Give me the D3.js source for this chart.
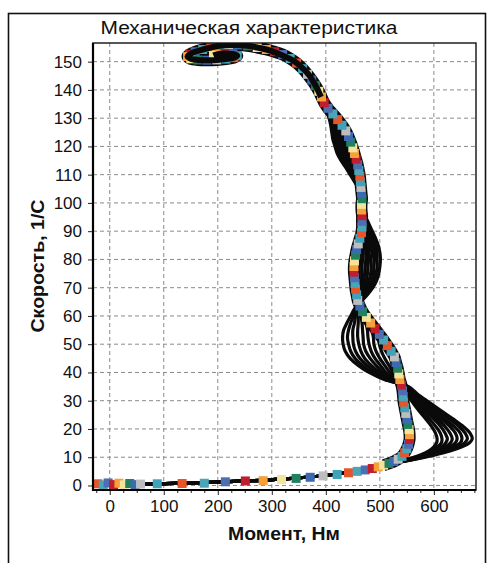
<!DOCTYPE html>
<html>
<head>
<meta charset="utf-8">
<script src="https://cdn.jsdelivr.net/npm/d3@7"></script>
<style>
  body { margin: 0; background: #fff; }
  text { font-family: "Liberation Sans", Arial, sans-serif; fill: #111; }
</style>
</head>
<body>
<div id="chart"></div>
<script>
// tick values
const xTicks = [0, 100, 200, 300, 400, 500, 600]
const xMinorTicks = [-25, 25, 50, 75, 125, 150, 175, 225, 250, 275, 325, 350, 375, 425, 450, 475, 525, 550, 575, 625, 650, 675]
const yTicks = [0, 10, 20, 30, 40, 50, 60, 70, 80, 90, 100, 110, 120, 130, 140, 150]

// main curve with coloured square markers [torque, speed]
const mainCurve = [
  [-22, 0.6], [-12, 0.2], [-3, 0.9], [7, 0.3], [17, 0.8], [27, 0.2], [37, 0.7], [47, 0.3], [57, 0.5],
  [88, 0.6], [134, 0.7], [175, 0.8], [214, 1.3], [251, 1.6], [284, 1.7], [318, 2.1], [345, 2.5],
  [371, 2.9], [395, 3.4], [421, 3.9], [442, 4.5], [458, 5.0], [473, 5.5], [486, 6.0], [497, 6.6],
  [507, 7.2], [517, 7.8], [526, 8.5], [534, 9.3], [541, 10.3], [546, 11.6], [550, 13], [553, 14.6],
  [555, 16.3], [555, 18], [554, 19.8], [552, 21.6], [550, 23.5], [548, 25.5], [546, 27.5], [544, 29.5],
  [543, 31.5], [542, 33.5], [540, 35.5], [537, 37.5], [535, 39.5], [533, 41.5], [530, 43.5], [527, 45.5],
  [521, 47.5], [514, 49.5], [507, 51.5], [499, 53.5], [491, 55.5], [483, 57.5], [475, 59.5], [468, 61.5],
  [463, 63.5], [459, 65.5], [457, 67.5], [455, 69.5], [454, 71.5], [453, 73.5], [452, 75.5], [452, 77.5],
  [453, 79.5], [455, 81.5], [457, 83.5], [460, 85.5], [463, 87.5], [466, 89.5], [467, 91.5], [467, 93.5],
  [467, 95.5], [466, 97.5], [466, 99.5], [467, 101.5], [466, 103.5], [465, 105.5], [464, 107.5],
  [463, 109.5], [461, 111.5], [459, 113.5], [456, 115.5], [453, 117.5], [450, 119.5], [446, 121.5],
  [442, 123.5], [437, 125.5], [430, 127.5], [422, 129.5], [413, 131.5], [404, 133.5], [397, 135.5],
  [392, 137.5], [387, 139.5], [381, 141.5], [374, 143.5], [366, 145.5], [357, 147.5], [346, 149.5],
  [334, 151.1], [320, 152.5], [305, 153.5], [290, 154.3], [273, 155], [255, 155.6], [237, 155.9],
  [220, 155.9], [203, 155.6], [187, 155], [172, 154.3], [158, 153.5], [148, 152.6], [144, 151.8],
  [150, 151], [163, 150.6], [180, 150.5], [198, 150.6], [215, 150.9], [230, 151.4], [236, 152.1],
  [228, 152.7], [212, 152.9], [198, 152.6], [192, 152.2]
]

const markerColors = ["#e8542a", "#4ba5b9", "#4d6fb1", "#bf1e2e", "#f7a03a", "#f2e49a", "#21805f", "#3c6ab1", "#bdbdbd", "#3fa2b8"]

// black curves: shared start and end
const blackBottom = [
  [-25, 0.3], [-5, 0.5], [15, 0.3], [35, 0.6], [60, 0.5], [90, 0.6], [130, 0.8], [170, 1.0], [210, 1.3],
  [250, 1.6], [290, 1.9], [330, 2.4], [370, 3.0], [410, 3.8], [445, 4.7], [475, 5.7], [500, 6.8], [520, 7.7]
]
const blackTop = [
  [391, 137.5], [385, 140], [378, 142.5], [370, 145], [358, 147.5], [343, 150], [322, 152], [306, 153.3],
  [290, 154.3], [273, 155], [255, 155.6], [237, 155.9], [220, 155.9], [203, 155.6], [187, 155],
  [172, 154.3], [158, 153.5], [148, 152.6], [144, 151.8], [150, 151], [163, 150.6], [180, 150.5],
  [198, 150.6], [215, 150.9], [230, 151.4], [236, 152.1], [228, 152.7], [212, 152.9], [198, 152.6], [192, 152.2]
]

// speeds of the middle section points of the black curves
const blackSpeeds = [8.6, 9.6, 10.8, 12.2, 13.7, 15.1, 16.5, 18.5, 20.8, 23.5, 26.5, 29.6, 32.5, 35,
  37.5, 40, 42.5, 45, 47.5, 50, 52.5, 55, 57.5, 60, 62.5,
  65, 67.5, 70, 72.5, 75, 77.5, 80, 82.5, 85, 87.5, 90, 92.5, 95, 97.5, 100,
  102.5, 105, 107.5, 110, 112.5, 115, 117.5, 120, 122.5, 125, 127.5, 130, 132.5, 135]

// torque of each black curve at those speeds (inner to outer)
const blackTorques = [
  [538, 557, 575, 590, 600, 605, 606, 603, 596, 585, 572, 560, 550, 543,
   530, 524, 517, 509, 503, 499, 497, 494, 488, 479, 469,
   461, 461, 461, 461, 462, 462, 463, 464, 465, 466, 467, 468, 468, 467, 466,
   466, 464, 461, 457, 453, 449, 445, 441, 436, 430, 422, 412, 403, 397],
  [539, 559, 579, 596, 607, 614, 615, 612, 604, 592, 578, 564, 553, 544,
   527, 518, 509, 500, 493, 489, 488, 485, 481, 474, 467,
   462, 463, 465, 466, 467, 467, 468, 469, 470, 470, 470, 470, 469, 467, 466,
   466, 464, 460, 455, 451, 446, 442, 438, 433, 427, 420, 411, 403, 397],
  [540, 562, 583, 601, 615, 622, 625, 621, 613, 600, 584, 569, 555, 546,
   524, 511, 501, 491, 484, 480, 478, 477, 474, 470, 464,
   462, 466, 468, 470, 472, 473, 474, 474, 474, 473, 472, 471, 470, 468, 466,
   466, 463, 459, 454, 448, 443, 438, 434, 429, 425, 418, 410, 403, 397],
  [541, 564, 587, 607, 622, 631, 634, 630, 621, 607, 590, 573, 558, 547,
   521, 505, 493, 482, 474, 470, 469, 468, 467, 465, 462,
   463, 468, 472, 475, 477, 478, 479, 479, 479, 477, 475, 473, 471, 468, 466,
   466, 463, 458, 452, 446, 440, 435, 431, 426, 422, 416, 409, 403, 397],
  [543, 566, 590, 613, 630, 640, 643, 640, 630, 614, 595, 577, 561, 549,
   517, 499, 484, 472, 465, 461, 459, 459, 460, 460, 460,
   463, 470, 476, 480, 483, 484, 484, 485, 483, 481, 478, 475, 471, 468, 466,
   466, 462, 456, 450, 444, 437, 431, 427, 423, 419, 415, 409, 402, 397],
  [544, 568, 594, 619, 637, 649, 652, 649, 638, 621, 601, 581, 564, 550,
   514, 493, 476, 463, 455, 451, 450, 450, 453, 455, 458,
   464, 472, 480, 485, 488, 489, 490, 490, 488, 485, 481, 477, 472, 468, 466,
   466, 462, 455, 448, 442, 434, 428, 424, 420, 416, 413, 408, 402, 397],
  [545, 571, 598, 624, 645, 657, 662, 658, 647, 629, 607, 586, 566, 552,
   511, 486, 468, 454, 446, 442, 440, 442, 446, 451, 455,
   464, 475, 483, 489, 493, 495, 495, 495, 492, 488, 483, 478, 473, 469, 466,
   466, 461, 454, 447, 439, 431, 424, 420, 416, 414, 411, 407, 402, 397],
  [546, 573, 602, 630, 652, 666, 671, 667, 655, 636, 613, 590, 569, 553,
   508, 480, 460, 445, 436, 432, 431, 433, 439, 446, 453,
   465, 477, 487, 494, 498, 500, 501, 500, 497, 492, 486, 480, 474, 469, 466,
   466, 461, 453, 445, 437, 428, 421, 417, 413, 411, 409, 406, 402, 397]
]

const width = 487
const height = 563
const plot = { left: 93, right: 476, top: 43, bottom: 490 }

const svg = d3.select("#chart")
  .append("svg")
  .attr("width", width)
  .attr("height", height)

// outer frame
svg.append("rect")
  .attr("x", 8.5)
  .attr("y", 13.5)
  .attr("width", 477)
  .attr("height", 570)
  .attr("fill", "none")
  .attr("stroke", "#111")
  .attr("stroke-width", 1.6)

const x = d3.scaleLinear().domain([-31, 678]).range([plot.left, plot.right])
const y = d3.scaleLinear().domain([-1.6, 156.6]).range([plot.bottom, plot.top])

// grid
const grid = svg.append("g")
  .attr("stroke", "#8a8a8a")
  .attr("stroke-width", 1)
  .attr("stroke-dasharray", "4,3")

grid.selectAll(".gx")
  .data(xTicks)
  .join("line")
  .attr("x1", d => x(d)).attr("x2", d => x(d))
  .attr("y1", plot.top).attr("y2", plot.bottom)

grid.selectAll(".gy")
  .data(yTicks)
  .join("line")
  .attr("x1", plot.left).attr("x2", plot.right)
  .attr("y1", d => y(d)).attr("y2", d => y(d))

// clip for the data
svg.append("clipPath").attr("id", "clip")
  .append("rect")
  .attr("x", plot.left).attr("y", plot.top)
  .attr("width", plot.right - plot.left).attr("height", plot.bottom - plot.top)

const dataG = svg.append("g").attr("clip-path", "url(#clip)")

const line = d3.line()
  .x(d => x(d[0]))
  .y(d => y(d[1]))
  .curve(d3.curveCatmullRom)

// build each black curve from the shared parts and its own middle
const blackCurves = blackTorques.map(torques =>
  blackBottom
    .concat(torques.map((t, i) => [t, blackSpeeds[i]]))
    .concat(blackTop)
)

dataG.selectAll(".black_curve")
  .data(blackCurves)
  .join("path")
  .attr("class", "black_curve")
  .attr("d", line)
  .attr("fill", "none")
  .attr("stroke", "#0a0a0a")
  .attr("stroke-width", 3.2)

// black band under the squares where the curves run together
dataG.append("path")
  .datum(mainCurve.filter(d => d[1] > 7))
  .attr("d", line)
  .attr("fill", "none")
  .attr("stroke", "#0a0a0a")
  .attr("stroke-width", 12)
  .attr("stroke-linejoin", "round")

// coloured square markers
const sq = 9
dataG.selectAll(".square")
  .data(mainCurve)
  .join("rect")
  .attr("class", "square")
  .attr("x", d => x(d[0]) - sq / 2)
  .attr("y", d => y(d[1]) - sq / 2)
  .attr("width", sq)
  .attr("height", sq)
  .attr("fill", (d, i) => markerColors[i % markerColors.length])

// black line over the top part
dataG.append("path")
  .datum(blackTop)
  .attr("d", line)
  .attr("fill", "none")
  .attr("stroke", "#0a0a0a")
  .attr("stroke-width", 6)

// plot frame
svg.append("rect")
  .attr("x", plot.left).attr("y", plot.top)
  .attr("width", plot.right - plot.left).attr("height", plot.bottom - plot.top)
  .attr("fill", "none")
  .attr("stroke", "#111")
  .attr("stroke-width", 1.4)

// axes
const xAxis = svg.append("g")
  .attr("transform", `translate(0,${plot.bottom})`)
  .call(d3.axisBottom(x).tickValues(xTicks).tickSize(5).tickPadding(5))
xAxis.select(".domain").remove()
xAxis.selectAll("text").style("font-size", "17px").attr("fill", "#111")

const xMinor = svg.append("g")
  .attr("transform", `translate(0,${plot.bottom})`)
  .call(d3.axisBottom(x).tickValues(xMinorTicks).tickSize(3).tickFormat(""))
xMinor.select(".domain").remove()

const yAxis = svg.append("g")
  .attr("transform", `translate(${plot.left},0)`)
  .call(d3.axisLeft(y).tickValues(yTicks).tickSize(5).tickPadding(6))
yAxis.select(".domain").remove()
yAxis.selectAll("text").style("font-size", "17px").attr("fill", "#111")

svg.selectAll(".tick line").attr("stroke", "#222")

// thick axis lines
svg.append("line")
  .attr("x1", plot.left).attr("x2", plot.left)
  .attr("y1", plot.top).attr("y2", plot.bottom + 1)
  .attr("stroke", "#000").attr("stroke-width", 2.2)
svg.append("line")
  .attr("x1", plot.left - 1).attr("x2", plot.right)
  .attr("y1", plot.bottom).attr("y2", plot.bottom)
  .attr("stroke", "#000").attr("stroke-width", 2.2)

// titles
svg.append("text")
  .attr("x", 249)
  .attr("y", 34)
  .attr("text-anchor", "middle")
  .attr("textLength", 297)
  .attr("lengthAdjust", "spacingAndGlyphs")
  .style("font-size", "18px")
  .text("Механическая характеристика")

svg.append("text")
  .attr("x", 284)
  .attr("y", 540)
  .attr("text-anchor", "middle")
  .attr("textLength", 112)
  .attr("lengthAdjust", "spacingAndGlyphs")
  .style("font-size", "17.5px")
  .style("font-weight", "bold")
  .text("Момент, Нм")

svg.append("text")
  .attr("transform", "translate(44,266) rotate(-90)")
  .attr("text-anchor", "middle")
  .attr("textLength", 133)
  .attr("lengthAdjust", "spacingAndGlyphs")
  .style("font-size", "17.5px")
  .style("font-weight", "bold")
  .text("Скорость, 1/С")
</script>
</body>
</html>
